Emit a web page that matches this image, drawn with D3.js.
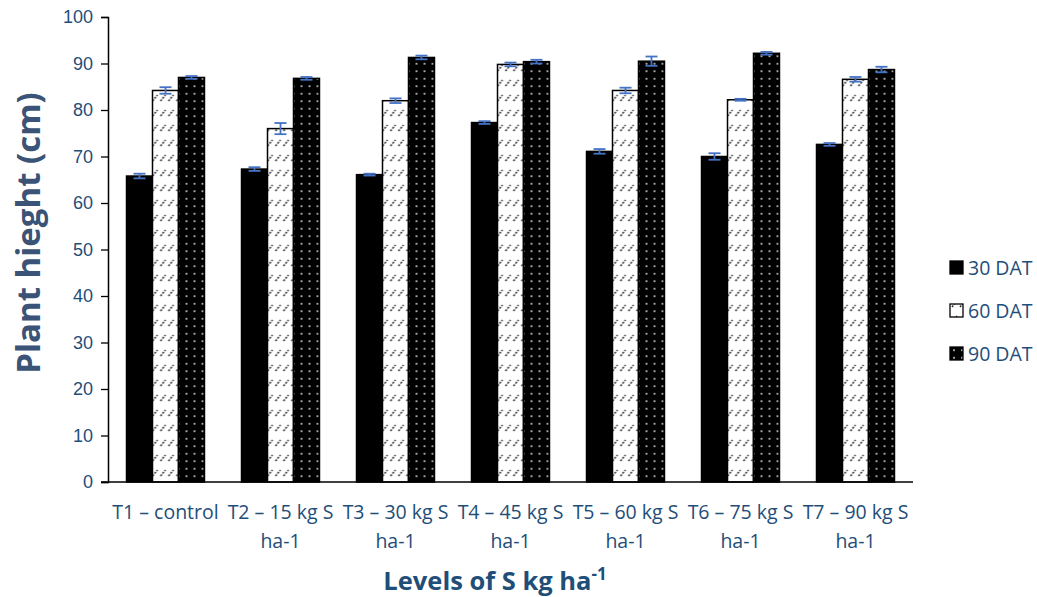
<!DOCTYPE html>
<html>
<head>
<meta charset="utf-8">
<script src="https://cdn.jsdelivr.net/npm/d3@7"></script>
<style>
  body { margin: 0; background: #fff; }
  svg { font-family: "Open Sans", Lato, sans-serif; }
</style>
</head>
<body>
<div id="chart"></div>
<script>
// chart data
const categories = [
  ['T1 – control'],
  ['T2 – 15 kg S', 'ha-1'],
  ['T3 – 30 kg S', 'ha-1'],
  ['T4 – 45 kg S', 'ha-1'],
  ['T5 – 60 kg S', 'ha-1'],
  ['T6 – 75 kg S', 'ha-1'],
  ['T7 – 90 kg S', 'ha-1']
];
const seriesNames = ['30 DAT', '60 DAT', '90 DAT'];
const dat30 = [65.8, 67.3, 66.1, 77.3, 71.1, 70.0, 72.6];
const dat60 = [84.2, 76.0, 82.0, 89.8, 84.2, 82.2, 86.6];
const dat90 = [87.0, 86.8, 91.3, 90.4, 90.5, 92.2, 88.7];
const err30 = [0.5, 0.4, 0.2, 0.3, 0.5, 0.7, 0.3];
const err60 = [0.7, 1.2, 0.5, 0.4, 0.6, 0.2, 0.5];
const err90 = [0.3, 0.3, 0.4, 0.4, 1.0, 0.3, 0.6];
const yTicks = [0, 10, 20, 30, 40, 50, 60, 70, 80, 90, 100];

const values = [dat30, dat60, dat90];
const errors = [err30, err60, err90];

const width = 1037, height = 597;
const margin = { top: 17, right: 124, bottom: 115, left: 108 };
const textColor = '#1F4E79';

const svg = d3.select('#chart').append('svg')
  .attr('width', width)
  .attr('height', height);

// fill patterns
const defs = svg.append('defs');
const hatch = defs.append('pattern')
  .attr('id', 'hatch')
  .attr('patternUnits', 'userSpaceOnUse')
  .attr('width', 8).attr('height', 15);
hatch.append('rect').attr('width', 8).attr('height', 15).attr('fill', '#fff');
hatch.append('line')
  .attr('x1', 2).attr('y1', 11).attr('x2', 7).attr('y2', 5)
  .attr('stroke', '#333').attr('stroke-width', 1.6)
  .attr('stroke-dasharray', '2 1.2');

const dots = defs.append('pattern')
  .attr('id', 'dots')
  .attr('patternUnits', 'userSpaceOnUse')
  .attr('width', 8).attr('height', 7.5);
dots.append('rect').attr('width', 8).attr('height', 7.5).attr('fill', '#000');
dots.append('circle').attr('cx', 4).attr('cy', 3.75).attr('r', 1).attr('fill', '#ddd');

const fills = ['#000', 'url(#hatch)', 'url(#dots)'];

const x = d3.scaleBand()
  .domain(d3.range(categories.length))
  .range([margin.left, width - margin.right])
  .paddingInner(0.322)
  .paddingOuter(0.161);

const xs = d3.scaleBand()
  .domain(d3.range(seriesNames.length))
  .range([0, x.bandwidth()]);

const y = d3.scaleLinear()
  .domain([0, 100])
  .range([height - margin.bottom, margin.top]);

// y axis
const yAxis = svg.append('g')
  .attr('transform', `translate(${margin.left},0)`)
  .call(d3.axisLeft(y).tickValues(yTicks).tickSize(7).tickPadding(8));
yAxis.select('.domain').attr('stroke', '#000').attr('stroke-width', 1.5);
yAxis.selectAll('.tick line').attr('stroke', '#000').attr('stroke-width', 1.3);
yAxis.selectAll('.tick text')
  .attr('fill', textColor)
  .style('font-size', '18px');

// bars
const groups = svg.append('g').selectAll('g')
  .data(categories)
  .join('g')
  .attr('transform', (d, i) => `translate(${x(i)},0)`);

seriesNames.forEach((name, s) => {
  groups.append('rect')
    .attr('x', xs(s))
    .attr('y', (d, i) => y(values[s][i]))
    .attr('width', xs.bandwidth())
    .attr('height', (d, i) => y(0) - y(values[s][i]))
    .attr('fill', fills[s])
    .attr('stroke', '#000')
    .attr('stroke-width', 1.5);
});

// error bars
seriesNames.forEach((name, s) => {
  const cx = xs(s) + xs.bandwidth() / 2;
  groups.append('line')
    .attr('x1', cx).attr('x2', cx)
    .attr('y1', (d, i) => y(values[s][i] + errors[s][i]))
    .attr('y2', (d, i) => y(values[s][i] - errors[s][i]))
    .attr('stroke', '#4472C4').attr('stroke-width', 1.8);
  [1, -1].forEach(sign => {
    groups.append('line')
      .attr('x1', cx - 6).attr('x2', cx + 6)
      .attr('y1', (d, i) => y(values[s][i] + sign * errors[s][i]))
      .attr('y2', (d, i) => y(values[s][i] + sign * errors[s][i]))
      .attr('stroke', '#4472C4').attr('stroke-width', 1.8);
  });
});

// x axis
svg.append('line')
  .attr('x1', margin.left - 7).attr('x2', width - margin.right)
  .attr('y1', y(0)).attr('y2', y(0))
  .attr('stroke', '#000').attr('stroke-width', 1.5);

const xLabels = svg.append('g').selectAll('text')
  .data(categories)
  .join('text')
  .attr('x', (d, i) => x(i) + x.bandwidth() / 2)
  .attr('y', y(0) + 37)
  .attr('text-anchor', 'middle')
  .attr('fill', textColor)
  .style('font-size', '19.5px');
xLabels.selectAll('tspan')
  .data(d => d)
  .join('tspan')
  .attr('x', function () { return d3.select(this.parentNode).attr('x'); })
  .attr('dy', (d, i) => i === 0 ? 0 : 29)
  .text(d => d);

// axis titles
svg.append('text')
  .attr('transform', 'translate(40,233) rotate(-90)')
  .attr('text-anchor', 'middle')
  .attr('fill', '#3A5377')
  .style('font-size', '33px')
  .style('font-weight', 'bold')
  .text('Plant hieght (cm)');

const xt = svg.append('text')
  .attr('x', 495)
  .attr('y', 590)
  .attr('text-anchor', 'middle')
  .attr('fill', textColor)
  .style('font-size', '25.5px')
  .style('font-weight', 'bold');
xt.append('tspan').text('Levels of S kg ha');
xt.append('tspan').attr('dy', -10).style('font-size', '17px').text('-1');

// legend
const legend = svg.append('g')
  .attr('transform', 'translate(950,268)')
  .selectAll('g')
  .data(seriesNames)
  .join('g')
  .attr('transform', (d, i) => `translate(0,${i * 43})`);
legend.append('rect')
  .attr('x', 0).attr('y', -7)
  .attr('width', 13).attr('height', 13)
  .attr('fill', (d, i) => fills[i])
  .attr('stroke', '#000').attr('stroke-width', 1.3);
legend.append('text')
  .attr('x', 18).attr('y', 7)
  .attr('fill', textColor)
  .style('font-size', '19.5px')
  .text(d => d);
</script>
</body>
</html>
